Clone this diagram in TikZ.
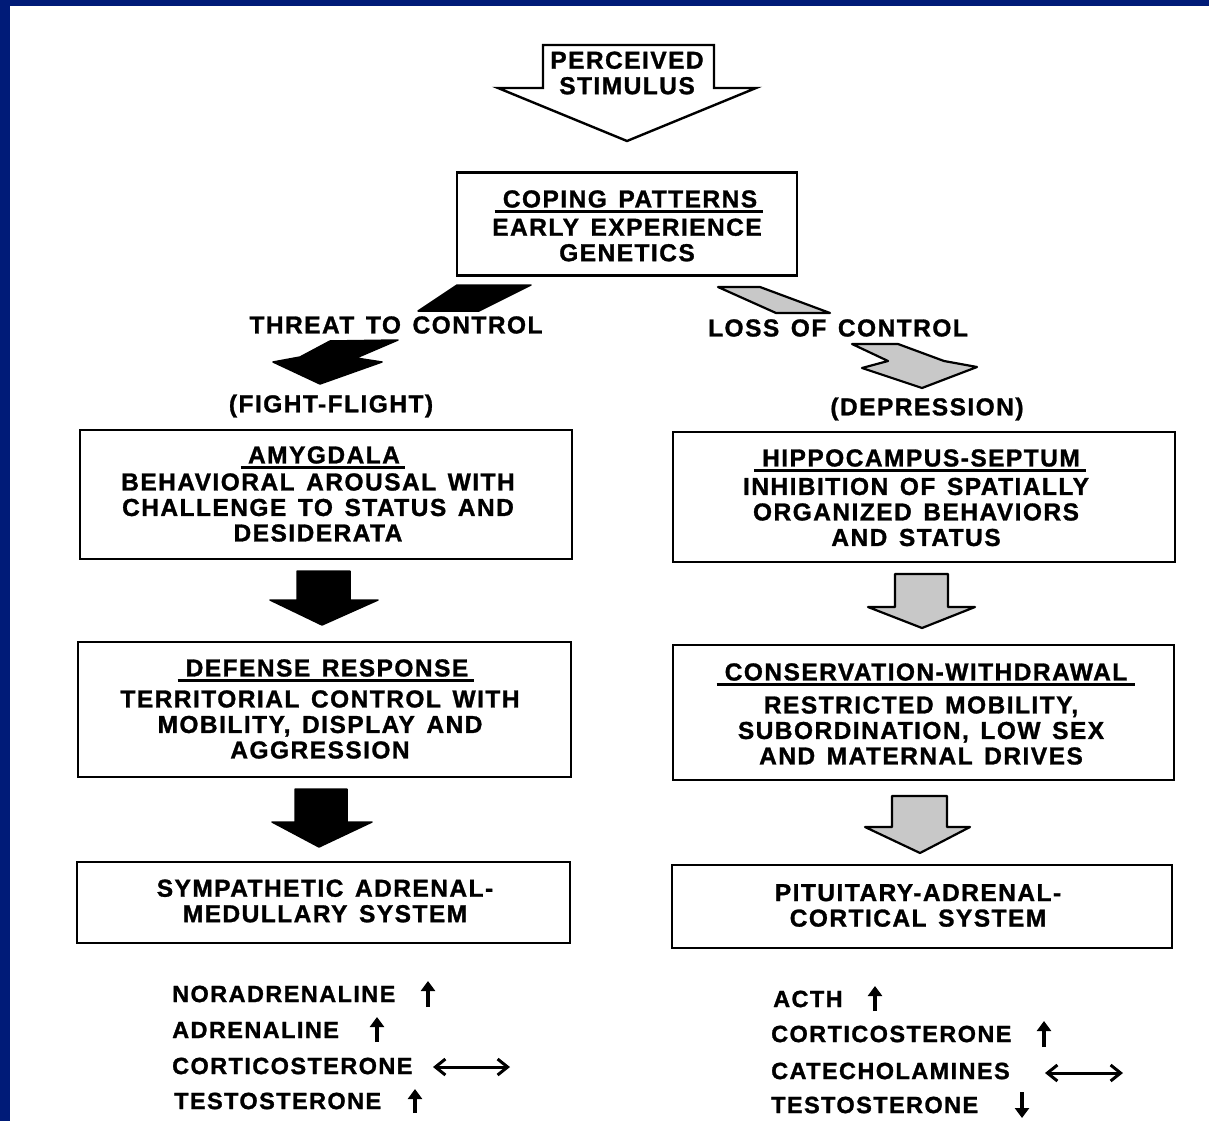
\documentclass[tikz,border=0pt]{standalone}
\usepackage{fontspec}
\setmainfont{Liberation Sans}[LetterSpace=6,WordSpace=1.4,BoldFeatures={FakeBold=1.2}]
\usetikzlibrary{arrows.meta,calc}
\definecolor{navy}{RGB}{0,27,120}
\definecolor{shade}{RGB}{200,200,200}
\tikzset{
  box/.style={draw=black, line width=2.6pt, inner sep=0pt},
  txt/.style={font=\fontsize{24.5}{25.5}\selectfont\bfseries, align=center, inner sep=0pt},
  ltxt/.style={font=\fontsize{23.5}{25}\selectfont\bfseries, anchor=west, inner sep=0pt},
  uline/.style={line width=2.4pt},
  blk/.style={fill=black, draw=black, line width=1.5pt, line join=round},
  gry/.style={fill=shade, draw=black, line width=2.2pt, line join=round},
  outl/.style={fill=white, draw=black, line width=2.4pt, line join=miter},
  updn/.style={line width=3.4pt, -{Triangle[length=10pt,width=14pt]}},
  both/.style={line width=3pt, {Straight Barb[length=10pt,width=16pt,line width=3pt]}-{Straight Barb[length=10pt,width=16pt,line width=3pt]}}
}
\begin{document}
\begin{tikzpicture}[x=1pt,y=-1pt]
\useasboundingbox (0,0) rectangle (1209,1121);
\fill[white] (0,0) rectangle (1209,1121);
\fill[navy] (0,0) rectangle (1209,6);
\fill[navy] (0,0) rectangle (10,1121);

% perceived stimulus arrow
\draw[outl] (543,45) -- (714,45) -- (714,88) -- (756,88) -- (627,141) -- (498,88) -- (543,88) -- cycle;
\node[txt] (stim) at (627,73) {PERCEIVED\\STIMULUS};

% coping box
\node[box, minimum width=340pt, minimum height=103pt] (cope) at (627,224) {};
\node[txt] (copeT) at (630,199) {COPING PATTERNS};
\draw[uline] ($(copeT.base west)+(-8,4)$) -- ($(copeT.base east)+(6,4)$);
\node[txt] (copeB) at (627,240) {EARLY EXPERIENCE\\GENETICS};

% branch shapes
\draw[blk] (457,285) -- (531,285) -- (479,311) -- (418,311) -- cycle;
\draw[gry] (718,287) -- (760,287) -- (830,313) -- (776,313) -- cycle;
\node[txt] (threat) at (396,325) {THREAT TO CONTROL};
\node[txt] (loss) at (838,328) {LOSS OF CONTROL};
\draw[blk] (398,340) -- (330,341) -- (300,357) -- (273,362) -- (320,384) -- (382,362) -- (356,358) -- cycle;
\draw[gry] (852,344) -- (898,344) -- (944,361) -- (977,367) -- (922,388) -- (862,368) -- (888,361) -- cycle;
\node[txt] (ff) at (331,406) {(FIGHT-FLIGHT)};
\node[txt] (dep) at (927,409) {(DEPRESSION)};

% left column
\node[box, minimum width=492pt, minimum height=129pt] (amy) at (326,494.5) {};
\node[txt] (amyT) at (324,455) {AMYGDALA};
\draw[uline] ($(amyT.base west)+(-7,4)$) -- ($(amyT.base east)+(5,4)$);
\node[txt] (amyB) at (318,507.5) {BEHAVIORAL AROUSAL WITH\\CHALLENGE TO STATUS AND\\DESIDERATA};

\draw[blk] (297,571) -- (350,571) -- (350,600) -- (378,600) -- (322,625) -- (270,600) -- (297,600) -- cycle;

\node[box, minimum width=493pt, minimum height=135pt] (def) at (324.5,709.5) {};
\node[txt] (defT) at (327,668) {DEFENSE RESPONSE};
\draw[uline] ($(defT.base west)+(-8,4)$) -- ($(defT.base east)+(6,4)$);
\node[txt] (defB) at (320,724.5) {TERRITORIAL CONTROL WITH\\MOBILITY, DISPLAY AND\\AGGRESSION};

\draw[blk] (295,789) -- (347,789) -- (347,822) -- (372,822) -- (319,847) -- (272,822) -- (295,822) -- cycle;

\node[box, minimum width=493pt, minimum height=81pt] (sym) at (323.5,902.5) {};
\node[txt] (symB) at (325,901) {SYMPATHETIC ADRENAL-\\MEDULLARY SYSTEM};

% right column
\node[box, minimum width=502pt, minimum height=130pt] (hip) at (924,497) {};
\node[txt] (hipT) at (921,458) {HIPPOCAMPUS-SEPTUM};
\draw[uline] ($(hipT.base west)+(-8,4)$) -- ($(hipT.base east)+(6,4)$);
\node[txt] (hipB) at (916,512) {INHIBITION OF SPATIALLY\\ORGANIZED BEHAVIORS\\AND STATUS};

\draw[gry] (895,574) -- (948,574) -- (948,607) -- (975,607) -- (922,628) -- (868,607) -- (895,607) -- cycle;

\node[box, minimum width=501pt, minimum height=135pt] (cons) at (923.5,712.5) {};
\node[txt] (consT) at (926,672) {CONSERVATION-WITHDRAWAL};
\draw[uline] ($(consT.base west)+(-8,4)$) -- ($(consT.base east)+(8,4)$);
\node[txt] (consB) at (921,730.5) {RESTRICTED MOBILITY,\\SUBORDINATION, LOW SEX\\AND MATERNAL DRIVES};

\draw[gry] (892,796) -- (947,796) -- (947,827) -- (970,827) -- (920,853) -- (865,827) -- (892,827) -- cycle;

\node[box, minimum width=500pt, minimum height=83pt] (pit) at (922,906.5) {};
\node[txt] (pitB) at (918,905.5) {PITUITARY-ADRENAL-\\CORTICAL SYSTEM};

% left list
\node[ltxt] (l1) at (172,994) {NORADRENALINE};
\node[ltxt] (l2) at (172,1030) {ADRENALINE};
\node[ltxt] (l3) at (172,1066) {CORTICOSTERONE};
\node[ltxt] (l4) at (174,1101) {TESTOSTERONE};
\draw[updn] (428,1007) -- (428,981);
\draw[updn] (377,1042) -- (377,1017);
\draw[both] (433,1067) -- (510,1067);
\draw[updn] (415,1113) -- (415,1089);

% right list
\node[ltxt] (r1) at (773,999) {ACTH};
\node[ltxt] (r2) at (771,1034) {CORTICOSTERONE};
\node[ltxt] (r3) at (771,1071) {CATECHOLAMINES};
\node[ltxt] (r4) at (771,1105) {TESTOSTERONE};
\draw[updn] (875,1011) -- (875,986);
\draw[updn] (1044,1047) -- (1044,1021);
\draw[both] (1045,1073) -- (1123,1073);
\draw[updn] (1022,1092) -- (1022,1118);
\end{tikzpicture}
\end{document}
